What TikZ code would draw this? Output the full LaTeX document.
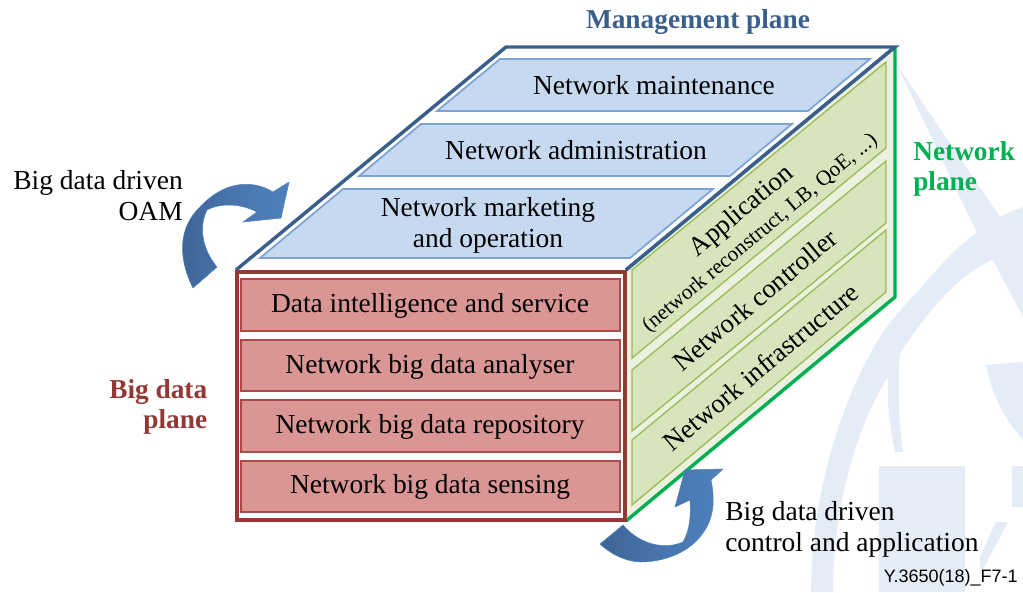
\documentclass[tikz,border=0pt]{standalone}
\usepackage{fontspec}
\usepackage{xcolor}
\setmainfont{Liberation Serif}
\setsansfont{Liberation Sans}
\definecolor{wmark}{RGB}{230,236,247}
\definecolor{mgmtedge}{RGB}{58,95,139}
\definecolor{mgmtfill}{RGB}{198,217,241}
\definecolor{mgmtline}{RGB}{125,163,210}
\definecolor{dataedge}{RGB}{149,55,53}
\definecolor{datafill}{RGB}{217,150,148}
\definecolor{dataline}{RGB}{170,75,72}
\definecolor{netedge}{RGB}{0,176,80}
\definecolor{netback}{RGB}{235,241,222}
\definecolor{netfill}{RGB}{215,228,188}
\definecolor{netline}{RGB}{155,187,89}
\definecolor{arrowdark}{RGB}{62,100,150}
\definecolor{arrowlight}{RGB}{79,129,189}
\tikzset{
  mgmtbar/.style={draw=mgmtline,fill=mgmtfill,line width=1.3pt},
  databar/.style={draw=dataline,fill=datafill,line width=1.3pt},
  netbar/.style={draw=netline,fill=netfill,line width=1pt},
  bendarrow/.style={draw=arrowlight,line width=0.4pt,left color=arrowdark,right color=arrowlight,middle color=arrowdark!40!arrowlight},
  label/.style={inner sep=0.75pt,font=\fontsize{20.6}{23.25}\selectfont,align=center},
  slantlabel/.style={label,rotate=39.8,font=\fontsize{20.1}{23.25}\selectfont},
  planetag/.style={inner sep=0.75pt,font=\fontsize{20.5}{22.5}\selectfont\bfseries},
}
\begin{document}
\begin{tikzpicture}[x=0.75pt,y=0.75pt,yscale=-1,xscale=1]
\useasboundingbox (0,0) rectangle (1023,592);

%Shape: Watermark
\fill [wmark] (897,65) -- (1000,217) .. controls (1007,213) and (1015,210) .. (1023,207) -- (1023,317) -- (993,260) .. controls (960,272) and (925,315) .. (900,353) .. controls (897,385) and (899,425) .. (903,452) -- (895,452) .. controls (889,425) and (887,400) .. (888,377) .. controls (860,420) and (833,500) .. (833,592) -- (811,592) .. controls (811,470) and (860,350) .. (905,305) .. controls (925,285) and (950,250) .. (977,233) -- cycle;
\fill [wmark] (986,365) -- (1023,362) -- (1023,440) .. controls (1005,420) and (992,395) .. (986,365) -- cycle;
\fill [wmark] (879,466) rectangle (965,592);
\fill [wmark] (1012,466) rectangle (1023,507);
\fill [wmark] (996,522) -- (1008,522) -- (980,575) -- (980,557) -- cycle;

%Shape: Management plane
\draw [mgmtedge,fill=white,line width=2.6pt] (236,270) -- (506,47) -- (895,47) -- (626,270);
\draw [mgmtbar] (437,111) -- (500,59) -- (870,59) -- (808,111) -- cycle;
\draw [mgmtbar] (359,176) -- (421,124) -- (792,124) -- (730,176) -- cycle;
\draw [mgmtbar] (260,258) -- (343,189) -- (713,189) -- (630,258) -- cycle;

%Shape: Network plane
\fill [netback] (626,270) -- (895,47) -- (895,297) -- (626,521) -- cycle;
\draw [netbar] (632,270) -- (886,62) -- (886,148) -- (632,358) -- cycle;
\draw [netbar] (632,370) -- (886,161) -- (886,223) -- (632,431) -- cycle;
\draw [netbar] (632,440) -- (886,230) -- (886,292) -- (632,505) -- cycle;
\draw [netedge,line width=2.6pt] (895,47) -- (895,297) -- (626,521);
\draw [mgmtedge,line width=2.6pt] (626,270) -- (895,47);

%Shape: Big data plane
\draw [dataedge,fill=white,line width=3pt] (237,272) rectangle (625,520);
\draw [databar] (241,279) rectangle (620,331);
\draw [databar] (241,340) rectangle (620,391);
\draw [databar] (241,400) rectangle (620,452);
\draw [databar] (241,461) rectangle (620,512);

%Shape: Arrows
\draw [bendarrow] (193,288) .. controls (178,258) and (178,228) .. (200,207) .. controls (222,183) and (250,178) .. (273,192) -- (289,182) -- (281,218) -- (243,222) -- (257,212) .. controls (240,203) and (220,203) .. (207,210) .. controls (198,228) and (203,250) .. (217,267) -- cycle;
\draw [bendarrow] (600,544) -- (623,525) .. controls (640,545) and (665,550) .. (683,542) .. controls (690,530) and (691,515) .. (690,500) -- (675,507) -- (685,470) -- (723,469) -- (711,480) .. controls (716,505) and (712,520) .. (703,533) .. controls (690,552) and (665,562) .. (640,562) .. controls (625,561) and (612,555) .. (600,544) -- cycle;

% Text Node
\node (maint) [label] at (654,85) {Network maintenance};
\node (admin) [label] at (576,150) {Network administration};
\node (market) [label] at (488,225) {Network marketing\\and operation};
\node (intel) [label] at (430,306) {Data intelligence and service};
\node (analyser) [label] at (430,367) {Network big data analyser};
\node (repo) [label] at (430,427) {Network big data repository};
\node (sensing) [label] at (430,487) {Network big data sensing};
\node (app) [slantlabel] at (750.5,221.5) {Application\\[-3pt]{\fontsize{16}{20}\selectfont (network reconstruct, LB, QoE, ...)}};
\node (ctrl) [slantlabel] at (755,300) {Network controller};
\node (infra) [slantlabel] at (761,367) {Network infrastructure};
\node (mgmttag) [planetag,text=mgmtedge] at (698,22) {Management plane};
\node (nettag) [planetag,text=netedge,align=left,anchor=west] at (912,169) {Network\\plane};
\node (datatag) [planetag,text=dataedge,align=right,anchor=east] at (208.5,407) {Big data\\plane};
\node (oamtag) [label,align=right,anchor=east] at (184,196) {Big data driven\\OAM};
\node (ctrltag) [label,align=left,anchor=west] at (724,529) {Big data driven\\control and application};
\node (figtag) [inner sep=0pt,anchor=east,font=\sffamily\fontsize{13.5}{15}\selectfont] at (1018,578) {Y.3650(18)\_F7-1};
\end{tikzpicture}
\end{document}
